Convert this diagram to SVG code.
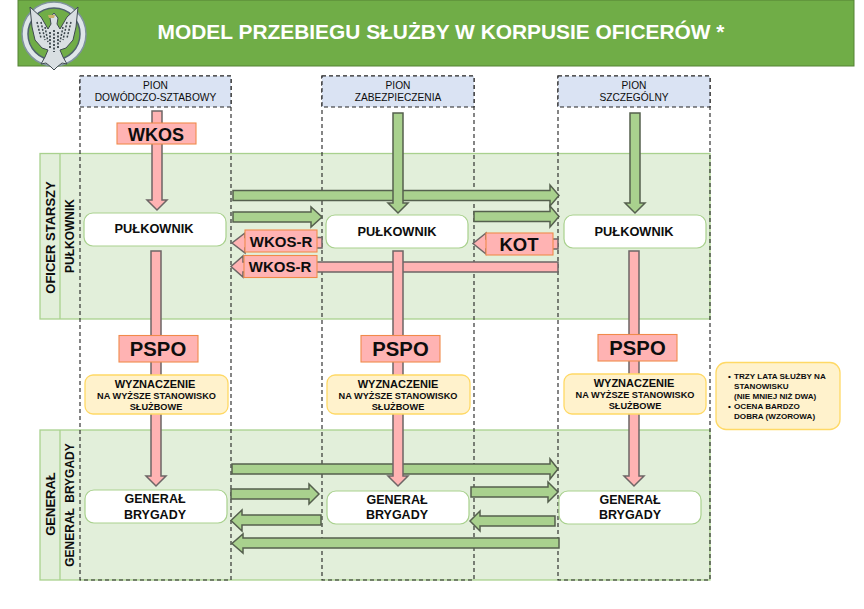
<svg xmlns="http://www.w3.org/2000/svg" width="864" height="609" viewBox="0 0 864 609">
<style>
text{font-family:"Liberation Sans",Arial,sans-serif;fill:#0d0d0d;text-anchor:middle}
.b{font-weight:bold}
.band{fill:#e2efda;stroke:#a9d18e;stroke-width:1.3}
.col{fill:none;stroke:#222;stroke-width:1.1;stroke-dasharray:4 3}
.hd{fill:#dae3f3;stroke:#222;stroke-width:1.1;stroke-dasharray:4 3}
.g{fill:#a9d18e;stroke:#55604e;stroke-width:1.500}
.p{fill:#ffb3b3;stroke:#6e6666;stroke-width:1.500}
.lab{fill:#ffb3b3;stroke:#f08a4b;stroke-width:1.100}
.node{fill:#fff;stroke:#a9d18e;stroke-width:1.200}
.y{fill:#fff2cc;stroke:#ffd966;stroke-width:1.300}
</style>
<rect x="18" y="0" width="836" height="66" fill="#70ad47" stroke="#548235" stroke-width="1"/>
<g id="logo">
<circle cx="54" cy="34" r="32" fill="#dfe6ea" stroke="#7f939d" stroke-width="1.500"/>
<circle cx="54" cy="34" r="26" fill="#70ad47" stroke="#4f636d" stroke-width="1.500"/>
<path d="M54 13l4 5-1 6 3 5 7-12 11-10-2 20-3 13-7 8-6 2 3 7 4 7-5-1-5 4-3 3-3-3-5-4-5 1 4-7 3-7-6-2-7-8-3-13-2-20 11 10 7 12 3-5-1-6z" fill="#d9dfe2" stroke="#3f4a50" stroke-width="1"/>
<path d="M37 22l4 16M41 22l4 18M45 27l3 15M71 22l-4 16M67 22l-4 18M63 27l-3 15" stroke="#39444a" stroke-width="1.500" stroke-dasharray="2 1.500" fill="none"/>
<path d="M50 32v16M54 30v22M58 32v16" stroke="#39444a" stroke-width="1.800" stroke-dasharray="2 1.500" fill="none"/>
<path d="M48 15h7l-1 3h-5z" fill="#c9b26a"/>
</g>
<text class="b" x="441" y="38.800" font-size="20.900" style="fill:#fff">MODEL PRZEBIEGU SŁUŻBY W KORPUSIE OFICERÓW *</text>

<g id="bands">
<rect class="band" x="40" y="153.500" width="670" height="165.500"/>
<rect class="band" x="40" y="430" width="670" height="150"/>
<path d="M60 153.500V319M60 430V580" stroke="#a9d18e" stroke-width="1.300" fill="none"/>
<text class="b" transform="translate(54.500 237.500) rotate(-90)" font-size="13">OFICER STARSZY</text>
<text class="b" transform="translate(74 236) rotate(-90)" font-size="12">PUŁKOWNIK</text>
<text class="b" transform="translate(54.500 504) rotate(-90)" font-size="13">GENERAŁ</text>
<text class="b" transform="translate(74 505) rotate(-90)" font-size="12" word-spacing="2">GENERAŁ BRYGADY</text>
</g>
<g id="columns">
<rect class="col" x="80" y="76" width="151" height="504"/>
<rect class="col" x="322" y="76" width="152" height="504"/>
<rect class="col" x="558" y="76" width="152" height="504"/>
</g>
<g id="col-head-1"><rect class="hd" x="80" y="76" width="151" height="31"/><text x="155.500" y="89" font-size="10.200">PION</text><text x="155.500" y="101" font-size="10.200">DOWÓDCZO-SZTABOWY</text></g>
<g id="col-head-2"><rect class="hd" x="322" y="76" width="152" height="31"/><text x="398" y="89" font-size="10.200">PION</text><text x="398" y="101" font-size="10.200">ZABEZPIECZENIA</text></g>
<g id="col-head-3"><rect class="hd" x="558" y="76" width="152" height="31"/><text x="634" y="89" font-size="10.200">PION</text><text x="634" y="101" font-size="10.200">SZCZEGÓLNY</text></g>

<g id="connectors">
<polygon class="g" points="233,190.500 550,190.500 550,185 559,195.500 550,206 550,200.500 233,200.500"/>
<polygon class="g" points="233,212 311,212 311,207 322,217 311,227 311,222 233,222"/>
<polygon class="g" points="474,211.500 550,211.500 550,206 559,216.500 550,227 550,221.500 474,221.500"/>
<polygon class="g" points="232,464 550,464 550,459 558,469 550,479 550,474 232,474"/>
<polygon class="g" points="231,489 309,489 309,484 319,494 309,504 309,499 231,499"/>
<polygon class="g" points="471,487 548,487 548,482 558,492 548,502 548,497 471,497"/>
<polygon class="g" points="321,515 242,515 242,510 231,520.500 242,531 242,525 321,525"/>
<polygon class="g" points="555,516 480,516 480,511 470,521 480,531 480,526 555,526"/>
<polygon class="g" points="559,538 243,538 243,534 232,543.500 243,553 243,548 559,548"/>
<polygon class="g" points="393,113 403,113 403,203 408,203 398,213 388,203 393,203"/>
<polygon class="g" points="630,113 640,113 640,203 645,203 635,213 625,203 630,203"/>
<polygon class="p" points="322,237.500 245,237.500 245,233 232,243 245,253 245,248 322,248"/>
<polygon class="p" points="558,262 243,262 243,256 231,266.500 243,277 243,272 558,272"/>
<polygon class="p" points="558,239 486,239 486,233 473,243.500 486,254 486,249 558,249"/>
<polygon class="p" points="152,111 162,111 162,200 167,200 157,210 147,200 152,200"/>
<polygon class="p" points="151,251 161,251 161,476 166,476 156,486 146,476 151,476"/>
<polygon class="p" points="393,251 403,251 403,476 408,476 398,486 388,476 393,476"/>
<polygon class="p" points="629,251 639,251 639,476 644,476 634,486 624,476 629,476"/>
</g>

<g id="wkos"><rect class="lab" x="117" y="123" width="79" height="21"/><text class="b" x="156" y="140.500" font-size="18">WKOS</text></g>
<g id="wkos-r-1"><rect class="lab" x="245" y="230" width="72" height="22"/><text class="b" x="281" y="246.500" font-size="15">WKOS-R</text></g>
<g id="wkos-r-2"><rect class="lab" x="244" y="255.500" width="73" height="22"/><text class="b" x="280" y="272" font-size="15">WKOS-R</text></g>
<g id="kot"><rect class="lab" x="486" y="233" width="67" height="22"/><text class="b" x="519" y="250.500" font-size="18.500">KOT</text></g>
<g id="pspo-1"><rect class="lab" x="119" y="335.500" width="79" height="26.500"/><text class="b" x="158" y="355.500" font-size="20.300">PSPO</text></g>
<g id="pspo-2"><rect class="lab" x="361" y="335.500" width="79" height="26.500"/><text class="b" x="400.500" y="355.500" font-size="20.300">PSPO</text></g>
<g id="pspo-3"><rect class="lab" x="598" y="334.500" width="79" height="26.500"/><text class="b" x="637.500" y="354.500" font-size="20.300">PSPO</text></g>

<g id="pulkownik-1"><rect class="node" x="84" y="213" width="142" height="33" rx="9"/><text class="b" x="154" y="233" font-size="12.800">PUŁKOWNIK</text></g>
<g id="pulkownik-2"><rect class="node" x="326" y="215" width="142" height="33" rx="9"/><text class="b" x="397" y="235.500" font-size="12.800">PUŁKOWNIK</text></g>
<g id="pulkownik-3"><rect class="node" x="564" y="215" width="142" height="33" rx="9"/><text class="b" x="634" y="235.500" font-size="12.800">PUŁKOWNIK</text></g>

<g id="wyzn-1"><rect class="y" x="85" y="375" width="143" height="39" rx="8"/><text class="b" x="155" y="387.500" font-size="11">WYZNACZENIE</text><text class="b" x="156.500" y="399" font-size="9.200">NA WYŻSZE  STANOWISKO</text><text class="b" x="156" y="410" font-size="9.200">SŁUŻBOWE</text></g>
<g id="wyzn-2"><rect class="y" x="327" y="375" width="143" height="39" rx="8"/><text class="b" x="398" y="387.500" font-size="11">WYZNACZENIE</text><text class="b" x="398" y="399" font-size="9.200">NA WYŻSZE  STANOWISKO</text><text class="b" x="398" y="410" font-size="9.200">SŁUŻBOWE</text></g>
<g id="wyzn-3"><rect class="y" x="564" y="374" width="142" height="40" rx="8"/><text class="b" x="634" y="387" font-size="11">WYZNACZENIE</text><text class="b" x="635" y="398" font-size="9.200">NA WYŻSZE  STANOWISKO</text><text class="b" x="635" y="409" font-size="9.200">SŁUŻBOWE</text></g>

<g id="note"><rect class="y" x="716" y="362.500" width="124" height="67" rx="10"/>
<g font-size="8.100">
<text class="b" x="728" y="379" style="text-anchor:start">•</text>
<text class="b" x="734" y="379" style="text-anchor:start">TRZY LATA  SŁUŻBY NA</text>
<text class="b" x="734" y="389" style="text-anchor:start">STANOWISKU</text>
<text class="b" x="734" y="399" style="text-anchor:start">(NIE MNIEJ NIŻ DWA)</text>
<text class="b" x="728" y="409" style="text-anchor:start">•</text>
<text class="b" x="734" y="409" style="text-anchor:start">OCENA  BARDZO</text>
<text class="b" x="734" y="419" style="text-anchor:start">DOBRA (WZOROWA)</text>
</g></g>

<g id="general-1"><rect class="node" x="85" y="490" width="142" height="33" rx="9"/><text class="b" x="155" y="503" font-size="12.500">GENERAŁ</text><text class="b" x="155" y="519" font-size="12.500">BRYGADY</text></g>
<g id="general-2"><rect class="node" x="327" y="491" width="142" height="33" rx="9"/><text class="b" x="397" y="503.500" font-size="12.500">GENERAŁ</text><text class="b" x="397" y="519" font-size="12.500">BRYGADY</text></g>
<g id="general-3"><rect class="node" x="559" y="491" width="142" height="33" rx="9"/><text class="b" x="630" y="503.500" font-size="12.500">GENERAŁ</text><text class="b" x="630" y="519" font-size="12.500">BRYGADY</text></g>
</svg>
